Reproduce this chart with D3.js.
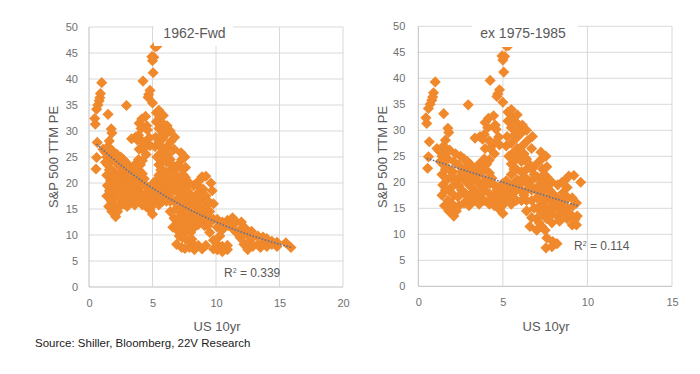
<!DOCTYPE html>
<html><head><meta charset="utf-8">
<script src="https://cdn.jsdelivr.net/npm/d3@7"></script>
<style>
body{margin:0;background:#fff}
svg{display:block}
text{font-family:"Liberation Sans",Arial,sans-serif}
</style>
</head><body><svg id="c" width="700" height="374"></svg>
<script>
// ---------- data (US 10yr yield, S&P 500 trailing PE) ----------
const lowYield = [
 [0.55,22.7],[0.6,24.9],[0.65,27.8],[0.5,31.3],[0.45,32.4],[0.6,34.2],[0.7,35.0],[0.8,35.8],[0.85,36.4],[0.9,37.2],[1.0,39.3],
 [1.1,26.5],[1.25,26.0],[1.5,33.2],[1.75,30.4],[1.8,29.6],[1.6,28.1],[1.5,27.0],
 [1.4,17.5],[1.45,19.5],[1.4,21.5],[1.45,23.5],[1.4,25],[1.55,15.5],
 [1.8,14.5],[1.75,16.5],[1.8,18.5],[1.7,20.5],[1.8,22.5],[1.75,24.5],[1.85,26.2],
 [2.1,13.5],[2.05,15.5],[2.1,17.5],[2.1,19.5],[2.05,22],[2.1,24],
 [2.4,15.5],[2.35,17.2],[2.4,19.3],[2.45,21],[2.4,23.3],[2.5,25],
 [2.7,16],[2.75,18],[2.7,20.5],[2.75,22.5],[2.7,24.5],[2.95,34.9],
 [1.6,18.5],[1.6,22.5],[1.95,16],[1.95,21],[2.25,14.5],[2.25,20.5],[2.55,18.5],[2.55,22],
 [2.85,17.5],[2.85,21.5],[1.3,24],[1.6,25.8],[2.2,25.5],[2.9,24]
];
const midYield = [
 [3.0,15.5],[3.05,17.5],[3.0,19.5],[3.0,21.5],[3.05,23.5],
 [3.3,16.5],[3.3,18.5],[3.35,20.5],[3.3,22.5],[3.35,28.5],
 [3.6,15.8],[3.6,17.5],[3.65,19.5],[3.6,21.5],[3.6,23.5],[3.65,28.8],
 [3.9,16.5],[3.9,18.5],[3.95,20.5],[3.9,22.5],[3.9,24.5],[3.95,26.5],[3.9,29.2],[3.95,31.5],
 [4.2,15.8],[4.2,17.8],[4.25,19.8],[4.2,21.8],[4.2,24.3],[4.25,26.5],[4.2,28],[4.15,32.3],[4.25,39.6],
 [4.5,15.5],[4.5,17.5],[4.55,19.3],[4.5,25.5],[4.5,27.5],[4.55,31],[4.45,32.8],[4.6,30.2],
 [4.8,14.8],[4.8,16.8],[4.85,18.8],[4.8,27.2],[4.75,28.7],[4.7,37.0],[4.8,37.8],[4.65,36.5],
 [5.0,14.0],[5.05,15.8],[5.0,17.8],[5.0,19.8],[5.0,35.4],[5.05,41.2],[5.0,43.5],[4.95,44.3],
 [5.2,46.2],[5.35,46.3],[5.1,44.2],[5.2,16.5],[5.25,18.5],[5.2,20.3],[5.2,27],[5.25,28.8],[5.3,31.8],[5.3,33.5],
 [5.5,15.8],[5.5,17.5],[5.55,19.5],[5.5,21.5],[5.5,23.5],[5.55,25.5],[5.5,27.5],[5.5,30.5],[5.55,32.5],[5.5,34],
 [5.8,16.5],[5.8,18.5],[5.85,20.5],[5.8,22.5],[5.8,24.5],[5.85,26.5],[5.8,28.5],[5.8,31.5],[5.85,33],
 [3.15,20.5],[3.45,17.5],[3.45,21.5],[3.75,18],[3.75,22.5],[4.05,19.5],[4.05,23.5],[4.35,17],
 [4.35,20.8],[4.35,27.5],[4.65,16],[4.65,18.5],[5.65,29],[5.35,25],[5.65,17],[5.65,22.5],
 [5.95,19.5],[5.95,25.5],[5.95,30],[4.1,30.5],[3.15,16.5],[3.8,28.3]
];
const highYield = [
 [6.1,16.5],[6.1,18.3],[6.15,20],[6.1,22],[6.1,24],[6.15,27],[6.1,29.5],[6.15,31],
 [6.4,14.5],[6.4,16.5],[6.4,18.5],[6.45,20.5],[6.4,22.5],[6.4,24.5],[6.45,28],[6.4,30],
 [6.6,11.5],[6.7,13.2],[6.7,16.5],[6.7,18.5],[6.75,20.5],[6.7,22.5],[6.7,26.5],[6.75,28.8],
 [7.0,10.8],[7.0,13],[7.05,15],[7.0,17],[7.0,19],[7.05,21],[7.0,23.5],
 [7.3,11.5],[7.3,14],[7.35,16],[7.3,18],[7.3,20],[7.35,22.5],[7.3,24.5],[7.25,25.8],
 [7.55,7.4],[7.6,9.3],[7.5,10.8],[7.6,13],[7.6,15],[7.65,17],[7.6,19],[7.6,21],[7.6,23],[7.55,25],
 [7.9,7.6],[7.95,8.6],[7.9,12.2],[7.9,14],[7.95,16],[7.9,18],[7.9,20],
 [8.2,8.2],[8.2,13.5],[8.25,15],[8.2,17],[8.25,19.5],
 [8.5,14],[8.5,16],[8.55,18],[8.5,20],
 [8.8,13],[8.8,15],[8.85,17],[8.8,19],[8.9,21.2],
 [9.1,11.8],[9.1,13.5],[9.15,15.5],[9.1,17],[9.2,21.3],
 [9.35,11.8],[9.4,13.5],[9.35,16],[9.6,20],
 [6.25,17.5],[6.25,21],[6.25,25.5],[6.55,19.5],[6.55,23.5],[6.85,15],[6.85,21.5],[7.15,12.2],
 [7.15,18],[7.45,16.5],[7.45,21.5],[7.75,14.5],[7.75,18.5],[8.05,15.5],[8.35,16.5],[8.35,12.5],
 [8.65,17],[8.95,14],[9.25,12.8],[8.7,20.5]
];
const era1975to1985 = [
 [6.9,8.2],[7.1,9.8],[7.0,12],[7.3,7.6],[7.35,9.5],[8.0,10.5],
 [8.3,7.2],[8.3,11.5],[8.6,8],[8.6,12],[8.9,7.3],[8.9,13.5],
 [9.2,8],[9.25,15],[9.2,17.5],[9.5,10.5],[9.5,12.5],[9.5,14.5],
 [9.8,7.3],[9.8,9],[9.8,13],[9.8,16],[9.7,18.5],
 [10.1,7.2],[10.1,8.2],[10.1,11.5],[10.1,13],
 [10.5,6.8],[10.5,7.8],[10.5,11],[10.5,12.5],
 [10.9,7.2],[10.9,8],[10.9,12.8],[11.2,11.5],[11.3,13.3],
 [11.6,10.5],[11.6,12.5],[11.9,9.5],[11.9,11],[12.0,12.5],
 [12.2,8.2],[12.2,10],[12.3,11.3],[12.5,7.2],[12.6,8.8],[12.5,10.3],
 [12.9,7.8],[12.9,9.5],[13.3,8.2],[13.3,9.8],[13.7,8.5],[13.7,9.6],
 [14.0,7.8],[14.0,9.3],[14.4,8.2],[14.4,8.8],[14.8,7.8],[14.8,8.6],
 [15.5,8.5],[15.9,7.6],
 [7.7,11.5],[8.1,9.2],[9.4,16.5],[10.3,9.8],[11.0,11.8],[12.8,10.7],[13.5,7.6],[9.0,18.8]
];
const yTicks = [0,5,10,15,20,25,30,35,40,45,50];
const xTicksLeft = [0,5,10,15,20];
const xTicksRight = [0,5,10,15];
const titles = ["1962-Fwd","ex 1975-1985"];
const r2Values = ["0.339","0.114"];
// fitted trend lines: exponential (left) y = a*exp(b*x); linear (right) y = c + m*x
const expTrend = {a:28.9, b:-0.0838, from:0.6, to:16};
const linTrend = {c:25.1, m:-1.02, from:0.5, to:9.5};

// ---------- drawing ----------
const svg = d3.select("#c");
const orange = "#F0882C";
const gridCol = "#D9D9D9";
const txtCol = "#595959";

function drawChart(cfg){
  const x = d3.scaleLinear().domain([0,cfg.xMax]).range([cfg.x0,cfg.x1]);
  const y = d3.scaleLinear().domain([0,50]).range([cfg.yBot,cfg.yTop]);
  const g = svg.append("g");
  g.append("g").selectAll("line").data(yTicks).join("line")
    .attr("x1",cfg.x0).attr("x2",cfg.x1).attr("y1",d=>y(d)).attr("y2",d=>y(d))
    .attr("stroke",d=>d===0?"#BFBFBF":gridCol).attr("stroke-width",1);
  g.append("g").selectAll("line").data(cfg.xTicks).join("line")
    .attr("x1",d=>x(d)).attr("x2",d=>x(d)).attr("y1",cfg.yTop).attr("y2",cfg.yBot)
    .attr("stroke",d=>d===0?"#BFBFBF":gridCol).attr("stroke-width",1);
  const ya = g.append("g").attr("transform",`translate(${cfg.x0},0)`)
    .call(d3.axisLeft(y).tickValues(yTicks).tickSize(0).tickPadding(cfg.yPad));
  ya.select(".domain").remove();
  ya.selectAll("text").attr("fill","#707070").style("font-size","11px").style("font-family","Liberation Sans, Arial, sans-serif");
  const xa = g.append("g").attr("transform",`translate(0,${cfg.yBot})`)
    .call(d3.axisBottom(x).tickValues(cfg.xTicks).tickSize(0).tickPadding(12));
  xa.select(".domain").remove();
  xa.selectAll("text").attr("fill","#707070").style("font-size","11px").style("font-family","Liberation Sans, Arial, sans-serif");
  const sym = d3.symbol().type(d3.symbolSquare).size(62);
  g.append("g").selectAll("path").data(cfg.pts).join("path")
    .attr("d",sym)
    .attr("transform",d=>`translate(${x(d[0])},${y(d[1])}) rotate(45)`)
    .attr("fill",orange);
  const xs = d3.range(cfg.trend.from, cfg.trend.to+0.001, 0.1);
  const line = d3.line().x(d=>x(d)).y(d=>y(cfg.trendFn(d)));
  g.append("path").attr("d",line(xs)).attr("fill","none")
    .attr("stroke","#5872A0").attr("stroke-width",1.6).attr("stroke-dasharray","1.6,1.6");
  const r = g.append("text").attr("x",cfg.r2x).attr("y",cfg.r2y).attr("fill",txtCol).style("font-size","12px");
  r.append("tspan").text("R");
  r.append("tspan").text("2").attr("dy",-4).style("font-size","7px");
  r.append("tspan").text(" = "+cfg.r2).attr("dy",4);
  g.append("rect").attr("x",cfg.tb[0]).attr("y",cfg.tb[2]).attr("width",cfg.tb[1]-cfg.tb[0]).attr("height",cfg.tb[3]-cfg.tb[2]).attr("fill","#fff");
  g.append("text").attr("x",cfg.tx).attr("y",37.7).attr("text-anchor","middle")
    .attr("fill",txtCol).style("font-size","14px").text(cfg.title);
  g.append("text").attr("transform",`translate(${cfg.ylx},157) rotate(-90)`).attr("text-anchor","middle")
    .attr("dy","0.35em").attr("fill",txtCol).style("font-size","13px").text("S&P 500 TTM PE");
  g.append("text").attr("x",cfg.xlx).attr("y",331).attr("text-anchor","middle")
    .attr("fill",txtCol).style("font-size","13px").text("US 10yr");
}

drawChart({
  pts:[...lowYield,...midYield,...highYield,...era1975to1985],
  xMax:20, xTicks:xTicksLeft, x0:89, x1:343, yTop:27, yBot:287, yPad:11,
  trend:expTrend, trendFn:v=>expTrend.a*Math.exp(expTrend.b*v),
  r2:r2Values[0], r2x:224, r2y:277,
  tb:[154,233,20,46], tx:194.5, title:titles[0], ylx:53, xlx:217
});
drawChart({
  pts:[...lowYield,...midYield,...highYield],
  xMax:15, xTicks:xTicksRight, x0:418.3, x1:672, yTop:26.3, yBot:286.3, yPad:13,
  trend:linTrend, trendFn:v=>linTrend.c+linTrend.m*v,
  r2:r2Values[1], r2x:574, r2y:249.5,
  tb:[472,578,20,47], tx:523, title:titles[1], ylx:382, xlx:546
});
svg.append("text").attr("x",35).attr("y",347).attr("fill","#1a1a1a")
  .style("font-size","11.5px").text("Source: Shiller, Bloomberg, 22V Research");
</script></body></html>
